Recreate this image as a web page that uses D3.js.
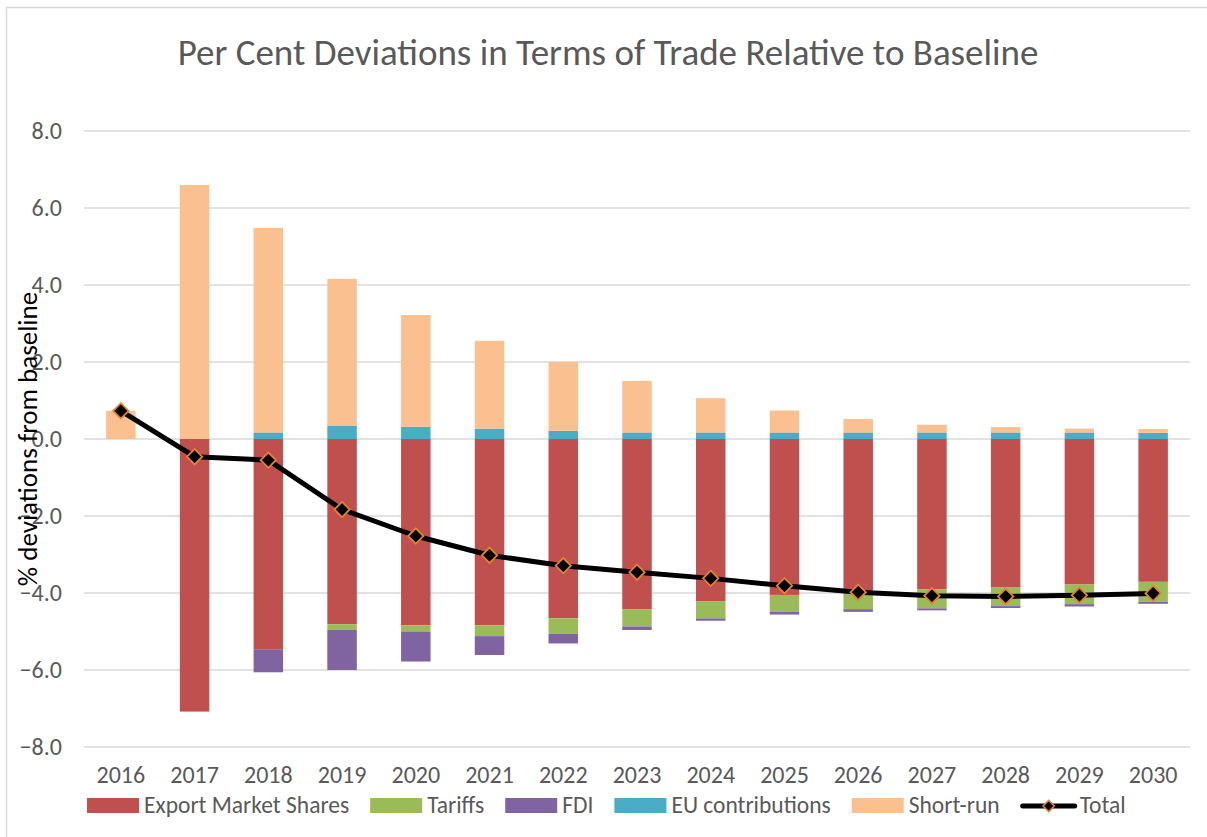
<!DOCTYPE html>
<html>
<head>
<meta charset="utf-8">
<script src="https://cdn.jsdelivr.net/npm/d3@7"></script>
<style>
  body { margin: 0; background: #fff; }
  text { font-family: Calibri, Carlito, "Open Sans", sans-serif; }
</style>
</head>
<body>
<div id="chart"></div>
<script>
// values
var years = ["2016","2017","2018","2019","2020","2021","2022","2023","2024","2025","2026","2027","2028","2029","2030"];
var exportShares = [0, -7.08, -5.46, -4.81, -4.84, -4.84, -4.66, -4.42, -4.21, -4.05, -4.01, -3.90, -3.86, -3.78, -3.71];
var tariffs      = [0, 0, 0, -0.15, -0.16, -0.28, -0.40, -0.45, -0.45, -0.44, -0.41, -0.50, -0.48, -0.51, -0.52];
var fdi          = [0, 0, -0.60, -1.04, -0.78, -0.49, -0.25, -0.09, -0.06, -0.07, -0.07, -0.05, -0.05, -0.06, -0.05];
var euContrib    = [0, 0, 0.17, 0.35, 0.32, 0.27, 0.21, 0.17, 0.17, 0.17, 0.17, 0.17, 0.17, 0.17, 0.16];
var shortRun     = [0.73, 6.60, 5.31, 3.81, 2.90, 2.28, 1.79, 1.34, 0.89, 0.57, 0.35, 0.20, 0.14, 0.10, 0.10];
var total        = [0.73, -0.46, -0.55, -1.83, -2.52, -3.02, -3.29, -3.46, -3.62, -3.81, -3.98, -4.07, -4.09, -4.06, -4.01];
var yTicks = [-8, -6, -4, -2, 0, 2, 4, 6, 8];

var seriesNames = ["Export Market Shares", "Tariffs", "FDI", "EU contributions", "Short-run"];
var seriesValues = [exportShares, tariffs, fdi, euContrib, shortRun];
var seriesColors = ["#C0504D", "#9BBB59", "#8064A2", "#4BACC6", "#FAC090"];

var width = 1207, height = 837;

var svg = d3.select("#chart").append("svg")
    .attr("width", width)
    .attr("height", height);

// chart area border (Excel style)
svg.append("rect")
    .attr("x", 6.5).attr("y", 7.5)
    .attr("width", 1220).attr("height", 850)
    .attr("fill", "none")
    .attr("stroke", "#d9d9d9")
    .attr("stroke-width", 1.5);

// table for the stack
var table = years.map(function(yr, i) {
  var row = { year: yr };
  seriesNames.forEach(function(name, s) { row[name] = seriesValues[s][i]; });
  return row;
});

var stacked = d3.stack()
    .keys(seriesNames)
    .offset(d3.stackOffsetDiverging)(table);

var x = d3.scaleBand()
    .domain(years)
    .range([84, 1190])
    .paddingInner(0.6)
    .paddingOuter(0.3);

var y = d3.scaleLinear()
    .domain([-8, 8])
    .range([747, 131]);

// gridlines
svg.append("g")
    .selectAll("line")
    .data(yTicks)
    .join("line")
    .attr("x1", 84).attr("x2", 1190)
    .attr("y1", function(d) { return y(d); })
    .attr("y2", function(d) { return y(d); })
    .attr("stroke", "#d9d9d9")
    .attr("stroke-width", 1.5);

// y axis labels
var yAxis = d3.axisLeft(y)
    .tickValues(yTicks)
    .tickFormat(d3.format(".1f"))
    .tickSize(0)
    .tickPadding(0);

var yg = svg.append("g")
    .attr("transform", "translate(62,0)")
    .call(yAxis);
yg.select(".domain").remove();
yg.selectAll("text")
    .attr("fill", "#595959")
    .style("font-size", "24px");

// x axis labels
var xAxis = d3.axisBottom(x).tickSize(0).tickPadding(0);
var xg = svg.append("g")
    .call(xAxis);
xg.select(".domain").remove();
xg.selectAll("text")
    .attr("y", 783)
    .attr("dy", null)
    .attr("fill", "#595959")
    .style("font-size", "24px");

// stacked bars
svg.append("g")
    .selectAll("g")
    .data(stacked)
    .join("g")
    .attr("fill", function(d, i) { return seriesColors[i]; })
    .selectAll("rect")
    .data(function(d) { return d; })
    .join("rect")
    .attr("x", function(d) { return x(d.data.year); })
    .attr("width", x.bandwidth())
    .attr("y", function(d) { return y(Math.max(d[0], d[1])); })
    .attr("height", function(d) { return Math.abs(y(d[0]) - y(d[1])); });

// total line
var line = d3.line()
    .x(function(d, i) { return x(years[i]) + x.bandwidth() / 2; })
    .y(function(d) { return y(d); });

svg.append("path")
    .datum(total)
    .attr("d", line)
    .attr("fill", "none")
    .attr("stroke", "#000")
    .attr("stroke-width", 5)
    .attr("stroke-linejoin", "round");

var diamond = d3.symbol().type(d3.symbolDiamond2).size(150);

svg.append("g")
    .selectAll("path")
    .data(total)
    .join("path")
    .attr("d", diamond)
    .attr("transform", function(d, i) {
      return "translate(" + (x(years[i]) + x.bandwidth() / 2) + "," + y(d) + ")";
    })
    .attr("fill", "#000")
    .attr("stroke", "#E3832B")
    .attr("stroke-width", 1.8);

// title
svg.append("text")
    .attr("x", 608)
    .attr("y", 65)
    .attr("text-anchor", "middle")
    .attr("fill", "#595959")
    .style("font-size", "37px")
    .text("Per Cent Deviations in Terms of Trade Relative to Baseline");

// y axis title
svg.append("text")
    .attr("transform", "translate(37,439) rotate(-90)")
    .attr("text-anchor", "middle")
    .attr("fill", "#000")
    .style("font-size", "27px")
    .text("% deviations from baseline");

// legend
var legend = svg.append("g").attr("transform", "translate(87,805)");
var lx = 0;
seriesNames.forEach(function(name, i) {
  legend.append("rect")
      .attr("x", lx).attr("y", -7)
      .attr("width", 52).attr("height", 15)
      .attr("fill", seriesColors[i]);
  var t = legend.append("text")
      .attr("x", lx + 57).attr("y", 8)
      .attr("fill", "#595959")
      .style("font-size", "23.5px")
      .text(name);
  lx += 57 + t.node().getComputedTextLength() + 21;
});
legend.append("line")
    .attr("x1", lx + 2).attr("x2", lx + 54)
    .attr("y1", 1).attr("y2", 1)
    .attr("stroke", "#000")
    .attr("stroke-width", 5)
    .attr("stroke-linecap", "round");
legend.append("path")
    .attr("d", d3.symbol().type(d3.symbolDiamond2).size(80))
    .attr("transform", "translate(" + (lx + 28) + ",1)")
    .attr("fill", "#000")
    .attr("stroke", "#E3832B")
    .attr("stroke-width", 1.5);
legend.append("text")
    .attr("x", lx + 59).attr("y", 8)
    .attr("fill", "#595959")
    .style("font-size", "23.5px")
    .text("Total");
</script>
</body>
</html>
